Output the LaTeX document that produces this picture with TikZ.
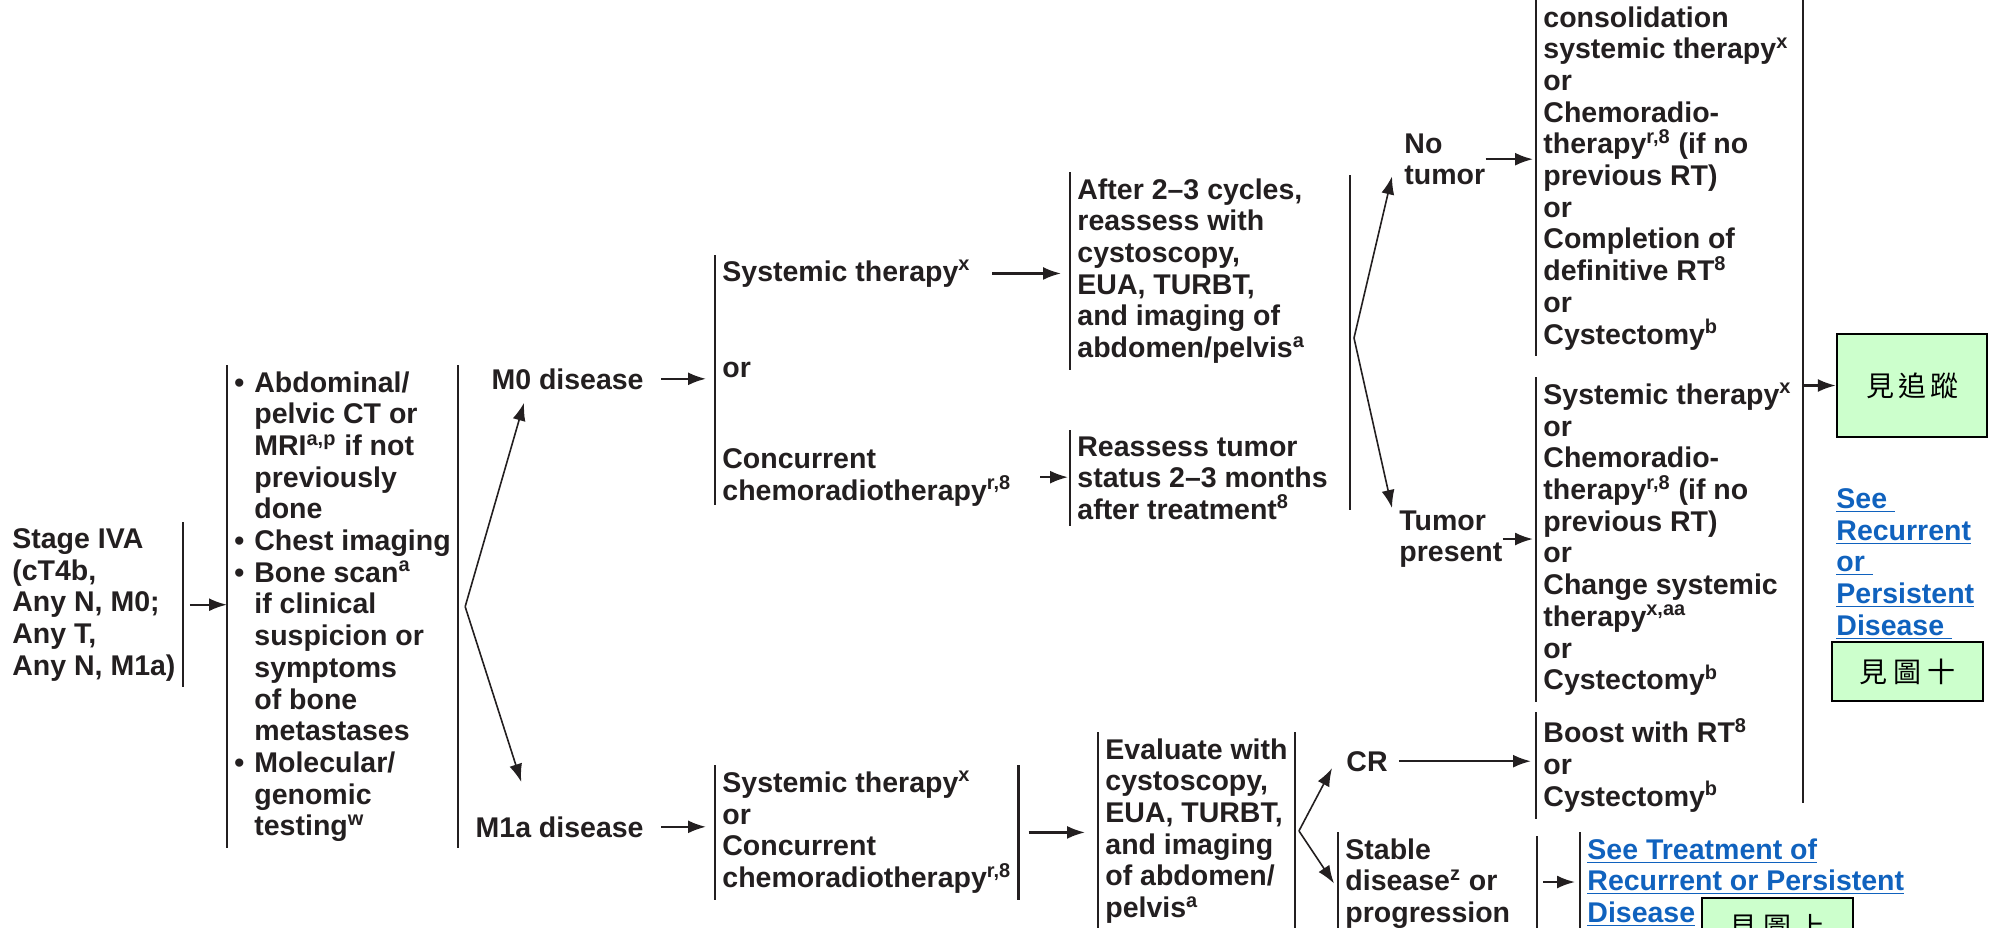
\documentclass[tikz,border=0pt]{standalone}
\usepackage{fontspec}
\setmainfont{Liberation Sans}
\newfontfamily\cjk{Noto Sans CJK TC}
\usepackage{tikz}
\usetikzlibrary{arrows.meta, calc}
\definecolor{darktext}{HTML}{231F20}
\definecolor{linkblue}{RGB}{16,98,190}
\definecolor{notegreen}{HTML}{CCFFCC}
\newcommand{\ftn}[1]{\textsuperscript{#1}}
\newcommand{\bul}{\makebox[10pt][l]{\textbullet}}
\newcommand{\indt}{\hspace*{10pt}}
\newcommand{\lnk}[1]{\textcolor{linkblue}{\underline{#1}}}
\tikzset{
  blk/.style={anchor=north west, align=left, inner xsep=3.5pt, inner ysep=3pt},
  txt/.style={inner sep=0pt, align=left},
  bar/.style={draw=darktext, line width=1.25pt},
  lbar/.style={append after command={(\tikzlastnode.north west) edge[bar] (\tikzlastnode.south west)}},
  rbar/.style={append after command={(\tikzlastnode.north east) edge[bar] (\tikzlastnode.south east)}},
  arr/.style={draw=darktext, line width=1.1pt, -{Latex[length=9pt,width=6.5pt]}},
  diag/.style={arr, line width=0.8pt},
  seebox/.style={draw=black, line width=1.2pt, fill=notegreen, % green pointer boxes
    minimum width=75pt, minimum height=51.5pt, text=black,
    font=\cjk\fontsize{14}{16}\selectfont}
}
\begin{document}
\begin{tikzpicture}[x=0.5pt, y=-0.5pt, font=\fontsize{14.25}{15.85}\selectfont\bfseries, text=darktext]
    \path[use as bounding box] (0,0) rectangle (1989,927);

    % work-up
    \node[blk, rbar] (stage) at (5,522) {Stage IVA\\(cT4b,\\Any N, M0;\\Any T,\\Any N, M1a)};
    \node[blk, lbar, rbar] (workup) at (227,365) {\bul Abdominal/\\\indt pelvic CT or\\\indt MRI\ftn{a,p} if not\\\indt previously\\\indt done\\\bul Chest imaging\\\bul Bone scan\ftn{a}\\\indt if clinical\\\indt suspicion or\\\indt symptoms\\\indt of bone\\\indt metastases\\\bul Molecular/\\\indt genomic\\\indt testing\ftn{w}};
    \draw[arr, shorten <=3.5pt] (stage) -- (stage -| workup.west);

    \node[txt, anchor=base east] (m0) at (644,389) {M0 disease};
    \node[txt, anchor=base east] (m1a) at (644,837) {M1a disease};
    \coordinate (sp1) at ([xshift=3.5pt]workup.east);
    \draw[diag] (sp1) -- ([xshift=16.5pt,yshift=-6.5pt]m0.south west);
    \draw[diag] (sp1) -- ([xshift=23pt,yshift=17pt]m1a.north west);

    % M0 branch
    \node[txt, anchor=base west] (m0sys) at (722,281) {Systemic therapy\ftn{x}};
    \node[txt, anchor=base west] (m0or) at (722,377) {or};
    \node[txt, anchor=north west] (m0conc) at (722,448) {Concurrent\\chemoradiotherapy\ftn{r,8}};
    \draw[bar] (715,255) -- (715,505);
    \draw[arr, shorten <=8.5pt, shorten >=8pt] (m0) -- (m0 -| m0sys.west);

    \node[blk, lbar] (afterblk) at (1070,172) {After 2–3 cycles,\\reassess with\\cystoscopy,\\EUA, TURBT,\\and imaging of\\abdomen/pelvis\ftn{a}};
    \node[blk, lbar] (reassblk) at (1070,430) {Reassess tumor\\status 2–3 months\\after treatment\ftn{8}};
    \draw[arr, shorten >=4.5pt] ($(afterblk.west |- m0sys)+(-78,0)$) -- (afterblk.west |- m0sys);
    \draw[arr, shorten >=1pt] ($(reassblk.west |- m0conc)+(-30,0)$) -- (reassblk.west |- m0conc);

    \draw[bar] (1350,175) -- (1350,510);
    \coordinate (sp2) at (1354,338);
    \node[txt, anchor=north west] (notumor) at (1404,133) {No\\tumor};
    \node[txt, anchor=north west] (tumorpres) at (1399,510) {Tumor\\present};
    \draw[diag] (sp2) -- ([xshift=-6pt,yshift=4.5pt]notumor.south west);
    \draw[diag] (sp2) -- ([xshift=-3.5pt,yshift=1pt]tumorpres.north west);

    \node[blk, lbar] (topblk) at (1536,0) {consolidation\\systemic therapy\ftn{x}\\or\\Chemoradio-\\therapy\ftn{r,8} (if no\\previous RT)\\or\\Completion of\\definitive RT\ftn{8}\\or\\Cystectomy\ftn{b}};
    \node[blk, lbar] (lowblk) at (1536,377) {Systemic therapy\ftn{x}\\or\\Chemoradio-\\therapy\ftn{r,8} (if no\\previous RT)\\or\\Change systemic\\therapy\ftn{x,aa}\\or\\Cystectomy\ftn{b}};
    \node[blk, lbar] (boostblk) at (1536,712) {Boost with RT\ftn{8}\\or\\Cystectomy\ftn{b}};
    \draw[arr, shorten >=1.5pt] (notumor) -- (notumor -| topblk.west);
    \draw[arr, shorten >=1.5pt] (tumorpres) -- (tumorpres -| lowblk.west);

    % follow-up and pointers
    \draw[bar] (1803,0) -- (1803,803);
    \node[seebox] (follow) at (1912,385.5) {見\hspace{2pt}追\hspace{2pt}蹤};
    \coordinate (bigbar) at (1803,385.5);
    \draw[arr] (bigbar) -- (follow.west);
    \node[txt, anchor=north west] (recur) at (1836,488) {\lnk{See\ }\\\lnk{Recurrent}\\\lnk{or\ }\\\lnk{Persistent}\\\lnk{Disease\ }};
    \node[seebox, minimum width=75.5pt, minimum height=29.5pt] (fig10) at (1907.5,671.5) {見\hspace{3pt}圖\hspace{3pt}十};

    % M1a branch
    \node[blk, lbar, rbar] (m1aopt) at (715,765) {Systemic therapy\ftn{x}\\or\\Concurrent\\chemoradiotherapy\ftn{r,8}};
    \draw[arr, shorten <=8.5pt, shorten >=4.5pt] (m1a) -- (m1a -| m1aopt.west);
    \node[blk, lbar, rbar] (evalblk) at (1098,732) {Evaluate with\\cystoscopy,\\EUA, TURBT,\\and imaging\\of abdomen/\\pelvis\ftn{a}};
    \draw[arr, shorten <=5pt, shorten >=6.5pt] (m1aopt) -- (m1aopt -| evalblk.west);

    \coordinate (sp3) at ([xshift=2pt]evalblk.east);
    \node[txt, anchor=base west] (cr) at (1346,771) {CR};
    \node[blk, lbar] (stableblk) at (1338,832) {Stable\\disease\ftn{z} or\\progression};
    \draw[diag] (sp3) -- ([xshift=-7pt,yshift=-3.5pt]cr.west);
    \draw[diag] (sp3) -- ([xshift=-2pt]stableblk.west);
    \draw[arr, shorten <=5.5pt, shorten >=2.5pt] (cr) -- (cr -| boostblk.west);

    \draw[bar] (1537,836) -- (1537,940);
    \coordinate (sbr) at (1537,882);
    \node[blk, lbar] (seetreat) at (1580,832) {\lnk{See Treatment of}\\\lnk{Recurrent or Persistent}\\\lnk{Disease}};
    \draw[arr, shorten <=3pt, shorten >=2.5pt] (sbr) -- (sbr -| seetreat.west);
    \node[seebox, minimum width=75.5pt, minimum height=29.5pt] (fig7) at (1777.5,927.5) {見\hspace{3pt}圖\hspace{3pt}上};
  \end{tikzpicture}
\end{document}
